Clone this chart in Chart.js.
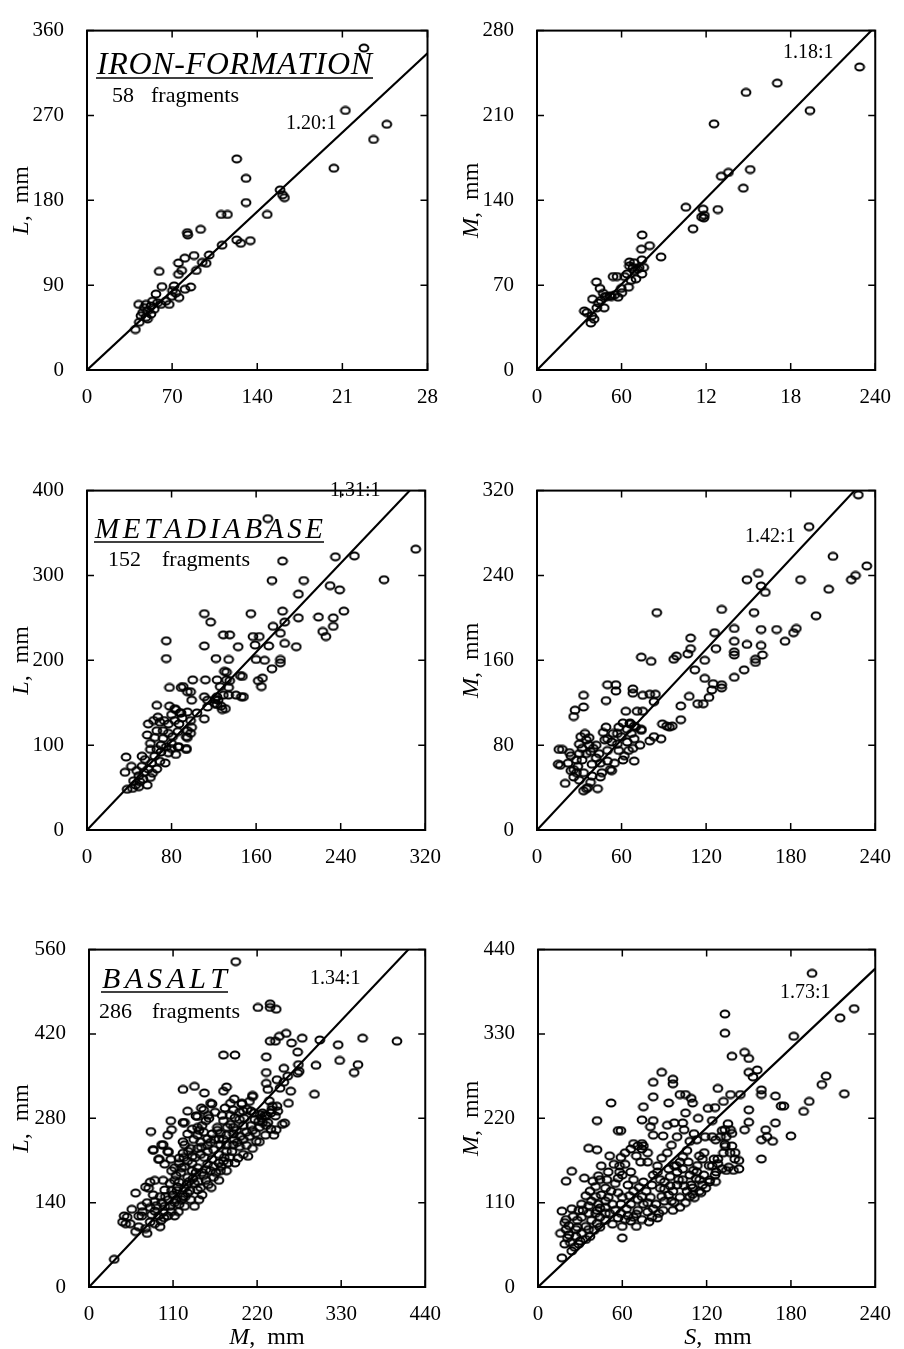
<!DOCTYPE html>
<html><head><meta charset="utf-8">
<script src="https://cdn.jsdelivr.net/npm/chart.js@4.4.1/dist/chart.umd.min.js"></script>
<style>
html,body{margin:0;padding:0;background:#fff;}
body{width:904px;height:1349px;position:relative;overflow:hidden;}
canvas{position:absolute;}
</style></head><body>
<script>
// ---------------- DATA ----------------
// Panel 1: IRON-FORMATION, M (x) vs L (y)
const ironML = [[227.7,341.5],[212.5,275.3],[246.5,260.6],[235.6,244.5],[203,214],[123.1,223.9],[130.8,203.3],[130.8,177.6],[158.8,191],[162.4,182.8],[160.8,185.8],[148.2,165],[110.3,165],[115.5,165],[93.4,149.2],[82.5,145.7],[82.8,143.3],[123.1,137.9],[126.4,134.4],[134.3,137.2],[111.1,132.4],[100.5,122],[88,121.4],[80.4,118.6],[75.2,113.5],[77.9,105.6],[75.2,101.5],[94.8,114.2],[98,113.2],[89.9,105.6],[59.4,104.6],[71.6,89.2],[85.3,88.1],[80.6,85.7],[75.7,76.8],[61.6,88.5],[56.7,80.6],[69.7,78.2],[67.6,69.6],[60.7,69.6],[42.5,69.6],[48.5,69.6],[52.6,67.9],[55.3,64.5],[44.4,57.6],[48.5,55.9],[49.8,62.8],[43,50.7],[39.8,42.9],[45.8,61],[52.6,59.3],[49.8,54.2],[73,81.6],[58,71.3],[53.9,73],[64.8,73],[47.1,66.2],[70.3,84.3]];
// Panel 2: IRON-FORMATION, S (x) vs M (y)
const ironSM = [[228.9,250],[170.5,236.7],[148.3,229],[193.7,214],[125.6,203.1],[135.8,163],[130.7,159.8],[151.3,165.4],[146.4,150],[128.3,132.4],[105.6,134.3],[117.9,132.7],[116.8,126.3],[118.4,125.5],[110.7,116.5],[74.6,111.4],[74.1,99.7],[79.9,102.6],[88,93.3],[74.4,90.9],[65.6,89.1],[65.6,85.9],[69,81.9],[71.4,83.2],[74.4,79.2],[70.2,75.2],[62.1,77.1],[56.8,77.1],[54,77.1],[65,68.3],[60.2,63.8],[57.5,60.1],[51.7,61.2],[49.3,60.6],[42.2,72.6],[44.7,67.3],[47,63.3],[39.4,58.5],[47.7,51.3],[42.4,51.3],[33.6,48.7],[38.9,44.7],[38.2,38.8],[40.5,42],[43.6,55.3],[55.1,62],[68.1,84.6],[72.5,84.6],[63.9,79.2],[59.8,67.3],[52.8,60.6],[35.4,47.3],[66.7,73.9],[75.7,84.6],[118.8,127.6],[48.2,60.6],[45.4,57.4],[69,88.5]];
// Panel 3: METADIABASE, M vs L
const metaML = [[171,367],[311,331],[253,323],[235,322],[185,317],[175,294],[281,295],[230,288],[239,283],[200,278],[205,294],[243,258],[185,258],[155,255],[111,255],[117,245],[187,245],[200,250],[219,251],[233,250],[233,240],[223,234],[226,228],[176,240],[183,232],[75,223],[75,202],[111,217],[129,230],[135,230],[143,216],[157,228],[163,228],[159,218],[172,217],[187,220],[198,216],[122,202],[134,201],[160,201],[168,200],[183,201],[183,197],[175,190],[147,181],[130,187],[112,177],[123,177],[132,177],[100,177],[166,179],[162,176],[165,169],[78,168],[89,168],[98,163],[99,153],[134,168],[134,159],[141,159],[148,157],[114,153],[123,157],[124,153],[121,149],[127,146],[131,143],[114,145],[104,138],[95,139],[83,143],[88,138],[66,147],[111,131],[98,129],[99,121],[98,114],[95,109],[94,96],[87,98],
[37,86],[42,75],[36,68],[44,58],[38,48],[43,49],[52,87],[55,83],[52,75],[49,64],[53,60],[49,51],[58,72],[60,62],[57,53],[61,79],[64,87],[69,81],[66,72],[74,79],[77,91],[75,98],[66,95],[58,125],[57,112],[60,102],[64,109],[66,117],[69,127],[73,129],[77,125],[72,117],[77,114],[72,108],[81,110],[80,102],[86,98],[84,89],[83,129],[80,136],[84,142],[78,146],[89,138],[87,125],[94,110],[95,117],[94,95],[67,133],[63,129],[46,53],[121,154],[123,148],[128,142],[129,159],[126,169],[146,157],[132,186],[145,182],[135,176],[111,157],[95,163],[91,169],
[54,68],[62,67],[70,92],[80,96],[86,116],[90,132],[70,100],[60,95],[47,70],[50,57]];
// Panel 4: METADIABASE, S vs M
const metaSM = [[228,316],[193,286],[210,258],[234,249],[226,240],[223,236],[187,236],[207,227],[149,236],[157,242],[159,230],[162,224],[131,208],[154,205],[85,205],[198,202],[140,190],[159,189],[170,189],[184,190],[182,186],[176,178],[126,186],[109,181],[140,178],[149,175],[159,174],[109,171],[127,171],[140,168],[140,165],[160,165],[155,161],[155,158],[107,166],[74,163],[81,159],[97,161],[99,164],[119,160],[112,151],[119,143],[147,151],[140,144],[125,138],[131,137],[131,134],[124,132],[122,125],[108,126],[114,119],[118,119],[102,117],[102,104],[50,137],[56,137],[56,131],[49,122],[68,133],[68,129],[75,127],[80,128],[84,128],[83,121],[63,112],[71,112],[75,112],[33,127],[27,113],[33,116],[26,107],[89,100],[92,98],[94,97],[74,94],[83,88],[80,84],[49,97],[54,91],[61,101],[66,101],[69,98],[64,95],[34,91],
[15.5,76],[15,62],[23,73],[20,44],[22,63],[28,66],[26,57],[24,56],[30,81],[32,77],[35,85],[30,72],[32,66],[29,60],[33,54],[30,47],[35,39],[33,37],[36,40],[38,45],[39,51],[39,62],[42,68],[38,74],[40,77],[35,72],[37,80],[45,63],[46,54],[45,50],[50,65],[52,57],[53,56],[55,63],[50,75],[53,83],[50,86],[57,81],[58,75],[61,66],[57,91],[60,88],[64,83],[65,75],[68,77],[73,80],[69,86],[67,91],[70,97],[69,65],[43,39],[48,85],[44,72],[28,54],
[16.5,61],[18,76],[24,70],[26,50],[31,88],[37,87],[42,80],[47,92],[58,97],[62,70],[66,100],[74,95],[88,86],[96,98]];
// Panel 5: BASALT, M vs L
const basaltML = [[192,540],[221,464],[237,470],[237,464],[245,461],[176,385],[191,385],[258,421],[249,416],[237,408],[244,408],[265,405],[279,413],[302,410],[326,402],[358,413],[403,408],[273,390],[232,382],[328,376],[297,368],[352,369],[347,356],[274,369],[275,358],[255,363],[232,356],[273,355],[295,320],[264,325],[261,305],[246,344],[232,338],[234,328],[246,300],[236,309],[239,294],[214,316],[190,312],[200,304],[180,332],[176,325],[138,333],[151,322],[123,328],[147,297],[161,304],[156,285],[142,283],[123,273],[107,276],[108,261],[81,258],[95,236],[84,227],[92,212],[104,224],[107,212],[219,242],[231,252],[256,272],[245,261],[227,273],[232,284],[244,284],[224,286],[216,289],
[33,46],[44,108],[50,116],[54,105],[61,92],[65,100],[56,129],[61,156],[69,118],[76,89],[80,108],[80,132],[86,105],[93,100],[91,118],[97,124],[103,118],[99,134],[106,134],[112,118],[78,164],[84,153],[86,142],[93,150],[97,177],[106,172],[99,161],[110,153],[114,145],[118,137],[108,193],[114,185],[118,174],[125,164],[123,150],[129,156],[133,145],[138,134],[125,134],[129,182],[138,172],[142,161],[148,153],[144,145],[121,198],[129,209],[135,217],[142,198],[148,190],[153,177],[155,204],[159,193],[163,182],[170,177],[161,212],[170,206],[176,209],[182,206],[191,206],[195,214],[202,220],[208,217],[172,236],[180,236],[189,236],[197,233],[163,228],[155,225],[146,220],[133,230],[125,236],[123,222],[146,241],[142,252],[150,257],[155,246],[161,254],[168,260],[170,246],[129,254],[135,262],[142,265],[148,268],[153,276],[125,273],[123,241],[176,276],[185,270],[191,281],[197,278],[202,268],[206,257],[212,268],[217,278],[223,265],[232,268],[238,262],[223,241],[214,230],[180,252],[189,254],[178,297],[185,305],[200,305],[210,308],[214,318],[189,294],[202,292],[212,292],[159,305],[150,294],[140,284],[129,292],[103,252],[97,236],[103,225],[91,212],[84,228],[99,204],[112,198],[118,214],[86,177],[80,174],[74,166],[69,134],[86,126],[46,118],[48,105],[65,118],[74,97],[116,166],[112,177],[135,193],[172,193],[180,193],[238,289],[247,292],[253,270],[242,252],[234,273],[227,289],
[115,160],[120,190],[125,200],[128,170],[132,160],[136,180],[140,190],[143,175],[146,165],[150,185],[153,195],[156,170],[160,165],[163,200],[166,190],[170,220],[173,200],[177,215],[180,225],[184,215],[187,225],[190,245],[194,240],[198,250],[202,245],[206,235],[210,250],[214,260],[218,255],[222,275],[226,280],[230,285],[108,160],[112,140],[117,125],[121,145],[126,150],[131,175],[135,205],[139,215],[142,230],[147,232],[151,215],[155,235],[159,240],[164,245],[168,265],[172,255],[176,245],[181,265],[185,285],[189,265],[193,260],[197,290],[203,280],[207,295],[95,140],[100,150],[104,145],[108,125],[94,110],[98,115],[88,135],[82,120],[76,140],[70,125],[118,205],[124,215],[130,225],[137,245],[144,260],[157,280],[165,290],[174,285],[240,300],[250,330],[255,340],[260,350]];
// Panel 6: BASALT, S vs M
const basaltSM = [[195,409],[225,363],[215,351],[133,356],[133,331],[182,327],[138,301],[147,306],[150,298],[150,280],[156,283],[153,274],[88,280],[82,267],[96,271],[96,265],[205,275],[202,264],[218,252],[159,257],[159,251],[169,249],[173,236],[175,236],[193,242],[189,229],[128,259],[137,251],[144,251],[132,242],[126,234],[121,233],[101,251],[105,251],[109,246],[110,240],[105,227],[93,240],[75,235],[82,248],[52,240],[42,217],[74,218],[82,217],[80,209],[82,198],[92,211],[97,214],[103,214],[114,220],[124,217],[124,196],[131,204],[137,205],[134,196],[133,186],[138,184],[147,205],[150,215],[150,231],[159,192],[162,205],[163,196],[167,190],[169,214],[159,167],[180,197],[119,196],[113,192],[89,197],[74,187],[74,180],[68,187],[59,204],[57,204],[42,179],[36,181],[24,151],[20,138],[33,142],[17,99],[17,38],[140,167],[143,154],[134,152],[128,167],[132,175],[143,165],
[19,84],[20,75],[21,64],[19,56],[23,58],[27,66],[29,56],[24,47],[28,87],[31,91],[29,100],[36,96],[38,87],[34,79],[36,75],[42,83],[41,96],[44,91],[43,108],[38,112],[31,108],[34,119],[37,125],[41,131],[44,140],[48,129],[50,117],[48,104],[51,96],[53,108],[50,150],[45,158],[51,171],[59,169],[58,158],[60,146],[57,142],[57,123],[60,117],[59,108],[63,102],[59,96],[64,93],[66,108],[65,119],[68,125],[64,133],[71,114],[71,100],[68,91],[70,79],[60,79],[60,64],[75,108],[78,98],[81,91],[80,117],[77,125],[75,137],[81,133],[82,146],[85,158],[78,163],[73,163],[70,171],[75,184],[71,184],[87,129],[90,137],[94,144],[93,154],[97,158],[101,163],[99,150],[103,140],[99,133],[96,125],[101,117],[95,112],[90,112],[89,100],[96,100],[106,125],[109,133],[108,146],[113,150],[115,140],[118,146],[117,133],[122,137],[124,158],[128,161],[126,146],[110,121],[116,123],[103,154],[107,163],[55,100],[48,87],[22,68],[27,75],
[114.8,171],[118.3,175.2],[117,166.8],[121.7,158.4],[125.2,166.8],[113.4,158.4],[110.6,152.1],[112.5,141.6],[110.1,129.1],[111.3,116.5],[114.8,124.9],[119.4,129.1],[122.2,139.5],[126.4,137.4],[126.8,150],[131,154.2],[135.7,156.3],[139.1,152.1],[126.4,191.9],[129.9,196.1],[132.9,205.3],[135.2,212.9],[138,200.3],[133.3,183.5],[136.7,175.2],[140.3,175.2],[98.5,158.4],[103,170],[106,178],[108,190],[111,200],[104,205],[99,196],[95,185],[92,175],[88,168],[85,150],[87,140],[90,128],[93,120],[97,110],[101,104],[105,110],[108,118],[104,132],[100,140],[94,132],[88,118],[84,108],[86,96],
[45,120],[48,112],[52,125],[55,135],[58,150],[62,160],[66,150],[68,140],[72,130],[74,118],[78,110],[82,102],[85,90],[79,85],[74,88],[70,95],[66,86],[62,88],[57,90],[53,82],[48,96],[44,103],[41,118],[39,138],[43,145],[49,140],[54,160],[62,175],[66,180],[78,175],
[22,80],[25,92],[28,78],[31,70],[34,62],[37,66],[30,60],[26,52],[40,74],[44,78],[16,70],[20,88],[24,102],[32,100],[36,106],[42,100]];

// Ratios of the fitted lines
const ratios = [1.20, 1.18, 1.31, 1.42, 1.34, 1.73];
// Tick values and tick labels (as printed)
const xTickVals = [[0,70,140,210,280],[0,60,120,180,240],[0,80,160,240,320],[0,60,120,180,240],[0,110,220,330,440],[0,60,120,180,240]];
const xTickLabels = [['0','70','140','21','28'],['0','60','12','18','240'],['0','80','160','240','320'],['0','60','120','180','240'],['0','110','220','330','440'],['0','60','120','180','240']];
const yTickVals = [[0,90,180,270,360],[0,70,140,210,280],[0,100,200,300,400],[0,80,160,240,320],[0,140,280,420,560],[0,110,220,330,440]];
const yTickLabels = [['0','90','180','270','360'],['0','70','140','210','280'],['0','100','200','300','400'],['0','80','160','240','320'],['0','140','280','420','560'],['0','110','220','330','440']];
const yTitles = ['L','M','L','M','L','M'];
const xTitles = [null,null,null,null,'M','S'];
const rockNames = ['IRON-FORMATION',null,'METADIABASE',null,'BASALT',null];
const fragCounts = ['58',null,'152',null,'286',null];
const seriesList = [ironML, ironSM, metaML, metaSM, basaltML, basaltSM];

// ---------------- LAYOUT / STYLE ----------------
const SERIF = '"Liberation Serif","Times New Roman",serif';
const areas = [[87,18,430,370],[537,18,883,370],[87,478,433,830],[537,478,883,830],[89,937,433,1287],[538,937,883,1287]];
const deco = [
  {title:{x0:97,x1:372,y:74,uy:78,size:32}, count:{x:112,fx:151,y:102}, ratio:{x:286,y:129}, ytx:28},
  {ratio:{x:783,y:58}, ytx:478},
  {title:{x0:95,x1:323,y:538,uy:542,size:29}, count:{x:108,fx:162,y:566}, ratio:{x:330,y:496}, ytx:28},
  {ratio:{x:745,y:542}, ytx:478},
  {title:{x0:102,x1:227,y:988,uy:992,size:30}, count:{x:99,fx:152,y:1018}, ratio:{x:310,y:984}, ytx:28, xt:{cx:267,y:1344}},
  {ratio:{x:780,y:998}, ytx:478, xt:{cx:718,y:1344}}
];

function makeMarker(){
  const c=document.createElement('canvas'); c.width=12; c.height=10;
  const g=c.getContext('2d'); g.strokeStyle='#000'; g.lineWidth=2.0;
  g.beginPath(); g.ellipse(6,5,4.4,3.5,0,0,Math.PI*2); g.stroke();
  return c;
}
const marker = makeMarker();

function spacedText(ctx,str,x,y,targetW){
  const chars=[...str]; const w=chars.map(c=>ctx.measureText(c).width);
  const nat=w.reduce((a,b)=>a+b,0);
  const sp=chars.length>1?(targetW-nat)/(chars.length-1):0;
  let cx=x; chars.forEach((c,i)=>{ctx.fillText(c,cx,y); cx+=w[i]+sp;});
}

const framePlugin = {
  id:'frame',
  afterDatasetsDraw(chart){
    const {ctx, chartArea:a, scales:{x,y}} = chart;
    ctx.save(); ctx.strokeStyle='#000';
    ctx.lineWidth=2; ctx.strokeRect(a.left,a.top,a.right-a.left,a.bottom-a.top);
    ctx.lineWidth=1.5; const tl=7;
    ctx.beginPath();
    x.ticks.forEach(t=>{const p=x.getPixelForValue(t.value); ctx.moveTo(p,a.bottom); ctx.lineTo(p,a.bottom-tl); ctx.moveTo(p,a.top); ctx.lineTo(p,a.top+tl);});
    y.ticks.forEach(t=>{const p=y.getPixelForValue(t.value); ctx.moveTo(a.left,p); ctx.lineTo(a.left+tl,p); ctx.moveTo(a.right,p); ctx.lineTo(a.right-tl,p);});
    ctx.stroke(); ctx.restore();
  }
};

function makeDeco(i, ox, oy){
  const d=deco[i];
  return {
    id:'deco'+i,
    afterDraw(chart){
      const ctx=chart.ctx; const a=chart.chartArea;
      const X=v=>v-ox, Y=v=>v-oy;
      ctx.save(); ctx.fillStyle='#000'; ctx.strokeStyle='#000'; ctx.textAlign='left'; ctx.textBaseline='alphabetic';
      if(rockNames[i]){
        ctx.font=`italic ${d.title.size}px ${SERIF}`;
        spacedText(ctx,rockNames[i],X(d.title.x0),Y(d.title.y),d.title.x1-d.title.x0);
        ctx.lineWidth=1.6; ctx.beginPath(); ctx.moveTo(X(d.title.x0-1),Y(d.title.uy)); ctx.lineTo(X(d.title.x1+1),Y(d.title.uy)); ctx.stroke();
      }
      if(fragCounts[i]){
        ctx.font=`22px ${SERIF}`;
        ctx.fillText(fragCounts[i],X(d.count.x),Y(d.count.y));
        ctx.fillText('fragments',X(d.count.fx),Y(d.count.y));
      }
      ctx.font=`20px ${SERIF}`;
      ctx.fillText(ratios[i].toFixed(2)+':1',X(d.ratio.x),Y(d.ratio.y));
      // y title
      ctx.save();
      ctx.translate(X(d.ytx),(a.top+a.bottom)/2); ctx.rotate(-Math.PI/2);
      ctx.font=`italic 24px ${SERIF}`; const w1=ctx.measureText(yTitles[i]).width;
      ctx.font=`24px ${SERIF}`; const rest=',  mm'; const w2=ctx.measureText(rest).width;
      const sx=-(w1+w2)/2;
      ctx.font=`italic 24px ${SERIF}`; ctx.fillText(yTitles[i],sx,0);
      ctx.font=`24px ${SERIF}`; ctx.fillText(rest,sx+w1,0);
      ctx.restore();
      if(xTitles[i]){
        ctx.font=`italic 24px ${SERIF}`; const v1=ctx.measureText(xTitles[i]).width;
        ctx.font=`24px ${SERIF}`; const r=',  mm'; const v2=ctx.measureText(r).width;
        const sx2=X(d.xt.cx)-(v1+v2)/2;
        ctx.font=`italic 24px ${SERIF}`; ctx.fillText(xTitles[i],sx2,Y(d.xt.y));
        ctx.font=`24px ${SERIF}`; ctx.fillText(r,sx2+v1,Y(d.xt.y));
      }
      ctx.restore();
    }
  };
}

const PADL=80, PADT=15, PADR=15, PADB=62;
areas.forEach((ar,i)=>{
  const [l,t,r,b]=ar;
  const cv=document.createElement('canvas');
  const W=r-l+PADL+PADR, H=b-t+PADT+PADB;
  const ox=l-PADL, oy=t-PADT;
  cv.width=W; cv.height=H; cv.style.left=ox+'px'; cv.style.top=oy+'px';
  cv.style.width=W+'px'; cv.style.height=H+'px';
  document.body.appendChild(cv);
  const xv=xTickVals[i], yv=yTickVals[i];
  const xmax=xv[xv.length-1], ymax=yv[yv.length-1];
  const xe=Math.min(xmax, ymax/ratios[i]);
  new Chart(cv,{
    type:'scatter',
    data:{datasets:[
      {type:'scatter', data:seriesList[i].map(p=>({x:p[0],y:p[1]})), pointStyle:marker, pointRadius:5, pointHoverRadius:5, clip:false},
      {type:'line', data:[{x:0,y:0},{x:xe,y:xe*ratios[i]}], borderColor:'#000', borderWidth:2.2, pointRadius:0, fill:false, tension:0}
    ]},
    options:{
      responsive:false, animation:false, devicePixelRatio:1,
      layout:{padding:{top:PADT,right:PADR,left:0,bottom:0}},
      plugins:{legend:{display:false}, tooltip:{enabled:false}},
      scales:{
        x:{type:'linear', min:0, max:xmax,
          afterBuildTicks(s){s.ticks=xv.map(v=>({value:v}));},
          afterFit(s){s.height=PADB;},
          grid:{display:false}, border:{display:false},
          ticks:{color:'#000', font:{family:SERIF,size:21}, padding:7, maxRotation:0, autoSkip:false,
            callback:(v,idx)=>xTickLabels[i][idx]}},
        y:{type:'linear', min:0, max:ymax,
          afterBuildTicks(s){s.ticks=yv.map(v=>({value:v}));},
          afterFit(s){s.width=PADL;},
          grid:{display:false}, border:{display:false},
          ticks:{color:'#000', font:{family:SERIF,size:21}, padding:15, autoSkip:false,
            callback:(v,idx)=>yTickLabels[i][idx]}}
      }
    },
    plugins:[framePlugin, makeDeco(i,ox,oy)]
  });
});
</script>
</body></html>
